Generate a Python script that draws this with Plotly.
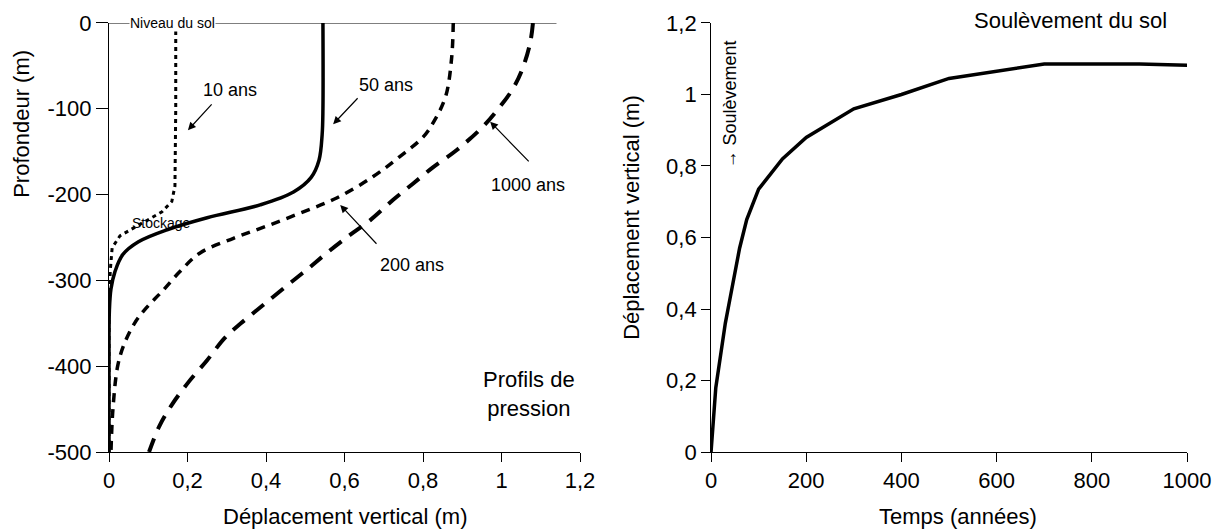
import plotly.graph_objects as go

# profils de pression : profondeur (m) et deplacement vertical (m)
depth_10 = [0, -100, -190, -208, -220, -234, -248, -262, -290, -350, -500]
disp_10 = [0.17, 0.17, 0.168, 0.16, 0.135, 0.08, 0.028, 0.008, 0.003, 0.0, 0.0]

depth_50 = [0, -100, -130, -160, -180, -197, -212, -227, -241, -255, -270, -290, -310, -335, -400, -500]
disp_50 = [0.545, 0.545, 0.543, 0.535, 0.515, 0.47, 0.385, 0.25, 0.148, 0.075, 0.035, 0.015, 0.005, 0.001, 0.0, 0.0]

depth_200 = [0, -40, -85, -113, -133, -156, -179, -204, -221, -237, -251, -268, -290, -313, -332, -350, -375, -400, -450, -500]
disp_200 = [0.877, 0.873, 0.858, 0.83, 0.80, 0.74, 0.673, 0.58, 0.49, 0.40, 0.317, 0.232, 0.18, 0.135, 0.095, 0.065, 0.038, 0.022, 0.01, 0.005]

depth_1000 = [0, -23, -55, -78, -101, -122, -148, -168, -187, -206, -230, -247, -268, -286, -304, -329, -350, -367, -393, -420, -445, -470, -500]
disp_1000 = [1.08, 1.073, 1.052, 1.027, 0.99, 0.95, 0.886, 0.826, 0.775, 0.724, 0.665, 0.614, 0.555, 0.508, 0.459, 0.392, 0.336, 0.295, 0.25, 0.2, 0.16, 0.128, 0.102]

# soulevement du sol dans le temps
years = [0, 5, 10, 20, 30, 40, 50, 60, 75, 100, 150, 200, 300, 400, 500, 600, 700, 800, 900, 1000]
uplift = [0, 0.11, 0.18, 0.27, 0.36, 0.43, 0.50, 0.57, 0.65, 0.735, 0.82, 0.88, 0.96, 1.0, 1.045, 1.065, 1.085, 1.085, 1.085, 1.082]

# ticks
depth_ticks = [0, -100, -200, -300, -400, -500]
depth_labels = ["0", "-100", "-200", "-300", "-400", "-500"]
disp_ticks = [0, 0.2, 0.4, 0.6, 0.8, 1.0, 1.2]
disp_labels = ["0", "0,2", "0,4", "0,6", "0,8", "1", "1,2"]
year_ticks = [0, 200, 400, 600, 800, 1000]
year_labels = ["0", "200", "400", "600", "800", "1000"]

FONT = "Liberation Sans, Arial, sans-serif"

fig = go.Figure()

fig.add_trace(go.Scatter(x=disp_10, y=depth_10, mode="lines",
                         line=dict(color="black", width=3, dash="4px,4px"),
                         xaxis="x", yaxis="y"))
fig.add_trace(go.Scatter(x=disp_50, y=depth_50, mode="lines",
                         line=dict(color="black", width=3.5, shape="spline"),
                         xaxis="x", yaxis="y"))
fig.add_trace(go.Scatter(x=disp_200, y=depth_200, mode="lines",
                         line=dict(color="black", width=3.5, dash="9px,7px", shape="spline"),
                         xaxis="x", yaxis="y"))
fig.add_trace(go.Scatter(x=disp_1000, y=depth_1000, mode="lines",
                         line=dict(color="black", width=4, dash="15px,10px", shape="spline"),
                         xaxis="x", yaxis="y"))

fig.add_trace(go.Scatter(x=years, y=uplift, mode="lines",
                         line=dict(color="black", width=3.5),
                         xaxis="x2", yaxis="y2"))

axis_common = dict(showgrid=False, zeroline=False, showline=True, linecolor="black",
                   linewidth=1, ticks="outside", tickcolor="black", tickwidth=1,
                   tickmode="array", automargin=False,
                   tickfont=dict(family=FONT, size=22, color="black"))

# the page body adds 8px around the plot, so the figure is 8px smaller each way
fig.update_layout(
    width=1214, height=522,
    margin=dict(l=0, r=0, t=0, b=0),
    paper_bgcolor="white", plot_bgcolor="white",
    showlegend=False,
    font=dict(family=FONT, color="black"),
    xaxis=dict(domain=[0.0832, 0.4712], range=[0, 1.2], tickvals=disp_ticks,
               ticktext=disp_labels, ticklen=9, anchor="y", **axis_common),
    yaxis=dict(domain=[0.1494, 0.9713], range=[-500, 0], tickvals=depth_ticks,
               ticktext=depth_labels, ticklen=12, anchor="x", **axis_common),
    xaxis2=dict(domain=[0.5791, 0.9712], range=[0, 1000], tickvals=year_ticks,
                ticktext=year_labels, ticklen=9, anchor="y2", **axis_common),
    yaxis2=dict(domain=[0.1494, 0.9713], range=[0, 1.2], tickvals=disp_ticks,
                ticktext=disp_labels, ticklen=9, anchor="x2", **axis_common),
)

# niveau du sol
fig.add_shape(type="line", xref="x", yref="y", x0=0, x1=1.14, y0=0, y1=0,
              line=dict(color="black", width=1.2))

lbl = dict(family=FONT, size=18, color="black")
small = dict(family=FONT, size=14, color="black")
title = dict(family=FONT, size=22, color="black")
mid = dict(xanchor="center", yanchor="middle", showarrow=False)
arrow = dict(xref="x", yref="y", axref="x", ayref="y", text="", showarrow=True,
             arrowhead=2, arrowsize=1.3, arrowwidth=1.2, arrowcolor="black")

annots = [
    dict(x=0.163, y=0, xref="x", yref="y", text="Niveau du sol",
         font=small, bgcolor="white", borderpad=0, **mid),
    dict(x=0.133, y=-233, xref="x", yref="y", text="Stockage", font=small, **mid),
    dict(x=0.308, y=-78, xref="x", yref="y", text="10 ans", font=lbl, **mid),
    dict(x=0.706, y=-72, xref="x", yref="y", text="50 ans", font=lbl, **mid),
    dict(x=0.772, y=-282, xref="x", yref="y", text="200 ans", font=lbl, **mid),
    dict(x=1.067, y=-189, xref="x", yref="y", text="1000 ans", font=lbl, **mid),
    dict(x=1.07, y=-432, xref="x", yref="y", text="Profils de<br>pression",
         font=title, align="center", **mid),
    # fleches
    dict(x=0.201, y=-125, ax=0.265, ay=-93, **arrow),
    dict(x=0.571, y=-118, ax=0.637, ay=-86, **arrow),
    dict(x=0.589, y=-212, ax=0.685, ay=-259, **arrow),
    dict(x=0.971, y=-115, ax=1.073, ay=-163, **arrow),
    # titres d'axes
    dict(x=0.0115, y=0.778, xref="paper", yref="paper", text="Profondeur (m)",
         textangle=-90, font=title, **mid),
    dict(x=0.2776, y=0.026, xref="paper", yref="paper", text="Déplacement vertical (m)",
         font=title, **mid),
    dict(x=0.7825, y=0.026, xref="paper", yref="paper", text="Temps (années)",
         font=title, **mid),
    dict(x=0.514, y=0.60, xref="paper", yref="paper", text="Déplacement vertical (m)",
         textangle=-90, font=title, **mid),
    dict(x=0.5947, y=0.815, xref="paper", yref="paper", text="→ Soulèvement",
         textangle=-90, font=dict(family=FONT, size=18, color="black"), **mid),
    dict(x=0.8756, y=0.977, xref="paper", yref="paper", text="Soulèvement du sol",
         font=title, **mid),
]
for a in annots:
    fig.add_annotation(**a)

fig.write_html("out.html")
